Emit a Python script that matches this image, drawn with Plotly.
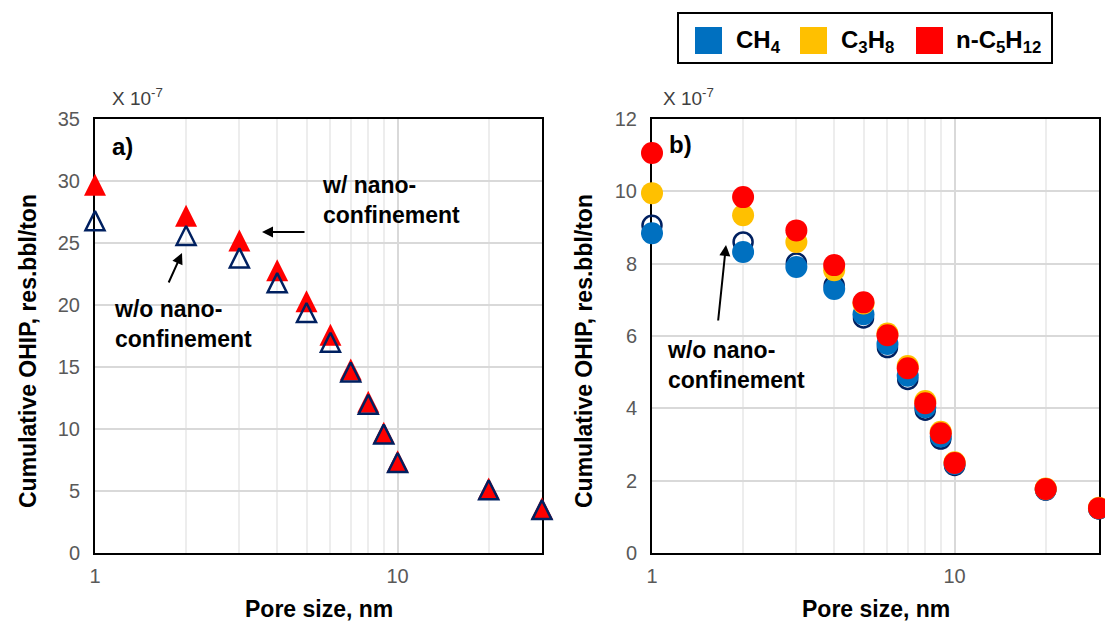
import math
import plotly.graph_objects as go

# Pore sizes (nm)
pore_size = [1, 2, 3, 4, 5, 6, 7, 8, 9, 10, 20, 30]

# Panel a: cumulative OHIP (x 1e-7 res.bbl/ton)
ohip_a_with = [29.7, 27.2, 25.2, 22.8, 20.3, 17.6, 14.8, 12.2, 9.7, 7.4, 5.2, 3.6]
ohip_a_without = [26.8, 25.6, 23.8, 21.8, 19.4, 17.0, 14.6, 12.0, 9.6, 7.3, 5.1, 3.5]

# Panel b: cumulative OHIP per component (x 1e-7 res.bbl/ton)
ohip_b_without = [9.06, 8.60, 8.02, 7.40, 6.50, 5.68, 4.80, 3.95, 3.15, 2.42, 1.74, 1.22]
ohip_b_ch4 = [8.84, 8.32, 7.91, 7.30, 6.60, 5.78, 4.90, 4.03, 3.22, 2.46, 1.76, 1.23]
ohip_b_c3h8 = [9.95, 9.34, 8.60, 7.82, 6.90, 6.07, 5.17, 4.20, 3.35, 2.51, 1.78, 1.25]
ohip_b_c5h12 = [11.06, 9.84, 8.92, 7.96, 6.93, 6.02, 5.11, 4.14, 3.31, 2.49, 1.77, 1.24]

legend_labels = ["CH<sub>4</sub>", "C<sub>3</sub>H<sub>8</sub>", "n-C<sub>5</sub>H<sub>12</sub>"]
y_ticks_a = [0, 5, 10, 15, 20, 25, 30, 35]
y_ticks_b = [0, 2, 4, 6, 8, 10, 12]
x_major = [1, 10]
x_minor = [2, 3, 4, 5, 6, 7, 8, 9, 20, 30]

BLUE = "#0070C0"
YELLOW = "#FFC000"
RED = "#FF0000"
NAVY = "#002060"
FONT = "Liberation Sans, Arial, sans-serif"
W, H = 1105, 624
TRI = 21  # triangle marker: equal width and height

fig = go.Figure()

# Panel a: upward triangles (arrow-down turned over, shifted so its centre sits on the point)
fig.add_trace(go.Scatter(x=pore_size, y=ohip_a_with, mode="markers", xaxis="x", yaxis="y",
                         marker=dict(symbol="arrow-down", angle=180, size=TRI + 1, color=RED,
                                     line=dict(width=0), standoff=(TRI + 1) / 2),
                         cliponaxis=False, showlegend=False))
fig.add_trace(go.Scatter(x=pore_size, y=ohip_a_without, mode="markers", xaxis="x", yaxis="y",
                         marker=dict(symbol="arrow-down-open", angle=180, size=TRI - 2, color=NAVY,
                                     line=dict(width=2.5, color=NAVY), standoff=(TRI - 2) / 2),
                         cliponaxis=False, showlegend=False))

# Panel b
fig.add_trace(go.Scatter(x=pore_size, y=ohip_b_without, mode="markers", xaxis="x2", yaxis="y2",
                         marker=dict(symbol="circle-open", size=19, color=NAVY,
                                     line=dict(width=2.5, color=NAVY)),
                         cliponaxis=False, showlegend=False))
for vals, col in [(ohip_b_ch4, BLUE), (ohip_b_c3h8, YELLOW), (ohip_b_c5h12, RED)]:
    fig.add_trace(go.Scatter(x=pore_size, y=vals, mode="markers", xaxis="x2", yaxis="y2",
                             marker=dict(symbol="circle", size=22, color=col, line=dict(width=0)),
                             cliponaxis=False, showlegend=False))

def px_x(p):
    return p / W

def px_y(p):
    return 1 - p / H

x_hi = math.log10(30) + 1e-4
dom_y = [px_y(553), px_y(119)]
tickfont = dict(family=FONT, size=20, color="#595959")
xcommon = dict(type="log", range=[0, x_hi], tickvals=x_major, ticktext=["1", "10"],
               showgrid=True, gridcolor="#D9D9D9", gridwidth=2,
               minor=dict(tickvals=x_minor, showgrid=True, gridcolor="#EDEDED", gridwidth=2, ticks=""),
               showline=True, linecolor="black", linewidth=2, mirror=True, ticks="",
               tickfont=tickfont, layer="below traces", ticklabelstandoff=4,
               zeroline=False, automargin=False)
ycommon = dict(showgrid=True, gridcolor="#D9D9D9", gridwidth=2,
               showline=True, linecolor="black", linewidth=2, mirror=True, ticks="",
               tickfont=tickfont, layer="below traces",
               zeroline=False, ticklabelstandoff=9, automargin=False)

fig.update_layout(
    width=W, height=H,
    margin=dict(l=0, r=0, t=0, b=0),
    paper_bgcolor="white", plot_bgcolor="white",
    xaxis=dict(xcommon, domain=[px_x(95), px_x(542)], anchor="y"),
    yaxis=dict(ycommon, domain=dom_y, range=[0, 35], tickvals=y_ticks_a, anchor="x"),
    xaxis2=dict(xcommon, domain=[px_x(652), px_x(1099)], anchor="y2"),
    yaxis2=dict(ycommon, domain=dom_y, range=[0, 12], tickvals=y_ticks_b, anchor="x2"),
)

ann = []

def text(x, y, s, size=24, color="black", xanchor="left", yanchor="middle", angle=0, weight="bold"):
    ann.append(dict(xref="paper", yref="paper", x=px_x(x), y=px_y(y), text=s, showarrow=False,
                    xanchor=xanchor, yanchor=yanchor, textangle=angle, align="left",
                    font=dict(family=FONT, size=size, color=color, weight=weight)))

def arrow(x0, y0, x1, y1):
    ann.append(dict(xref="paper", yref="paper", x=px_x(x1), y=px_y(y1), ax=x0 - x1, ay=y0 - y1,
                    axref="pixel", ayref="pixel", text="", showarrow=True,
                    arrowhead=2, arrowsize=1.1, arrowwidth=2, arrowcolor="black"))

# Axis titles
text(28, 351, "Cumulative OHIP, res.bbl/ton", size=23, xanchor="center", angle=-90)
text(584, 351, "Cumulative OHIP, res.bbl/ton", size=23, xanchor="center", angle=-90)
text(319, 609, "Pore size, nm", size=23, xanchor="center")
text(876, 609, "Pore size, nm", size=23, xanchor="center")

# Scale factor labels
text(110, 97, "X 10<sup>-7</sup>", size=19, color="#404040", weight="normal")
text(661, 97, "X 10<sup>-7</sup>", size=19, color="#404040", weight="normal")

# Panel labels
text(110, 146, "a)")
text(667, 144, "b)")

# Callouts
text(320, 200, "w/ nano-<br>confinement", size=23)
arrow(306, 232, 262, 232)
text(112, 324, "w/o nano-<br>confinement", size=23)
arrow(168, 284, 182, 253)
text(665, 365, "w/o nano-<br>confinement", size=23)
arrow(718, 322, 726, 245)

# Legend box drawn as shapes and text
shapes = [dict(type="rect", xref="paper", yref="paper", x0=px_x(678), x1=px_x(1052),
               y0=px_y(63), y1=px_y(13), line=dict(color="black", width=2), fillcolor="white")]
leg_sq = [695, 800, 916]
leg_tx = [737, 842, 957]
for sx, tx, lab, col in zip(leg_sq, leg_tx, legend_labels, [BLUE, YELLOW, RED]):
    shapes.append(dict(type="rect", xref="paper", yref="paper", x0=px_x(sx), x1=px_x(sx + 27),
                       y0=px_y(54), y1=px_y(27), line=dict(width=0), fillcolor=col))
    text(tx - 3, 42, lab, size=24)

fig.update_layout(annotations=ann, shapes=shapes)

fig.write_html("out.html")
